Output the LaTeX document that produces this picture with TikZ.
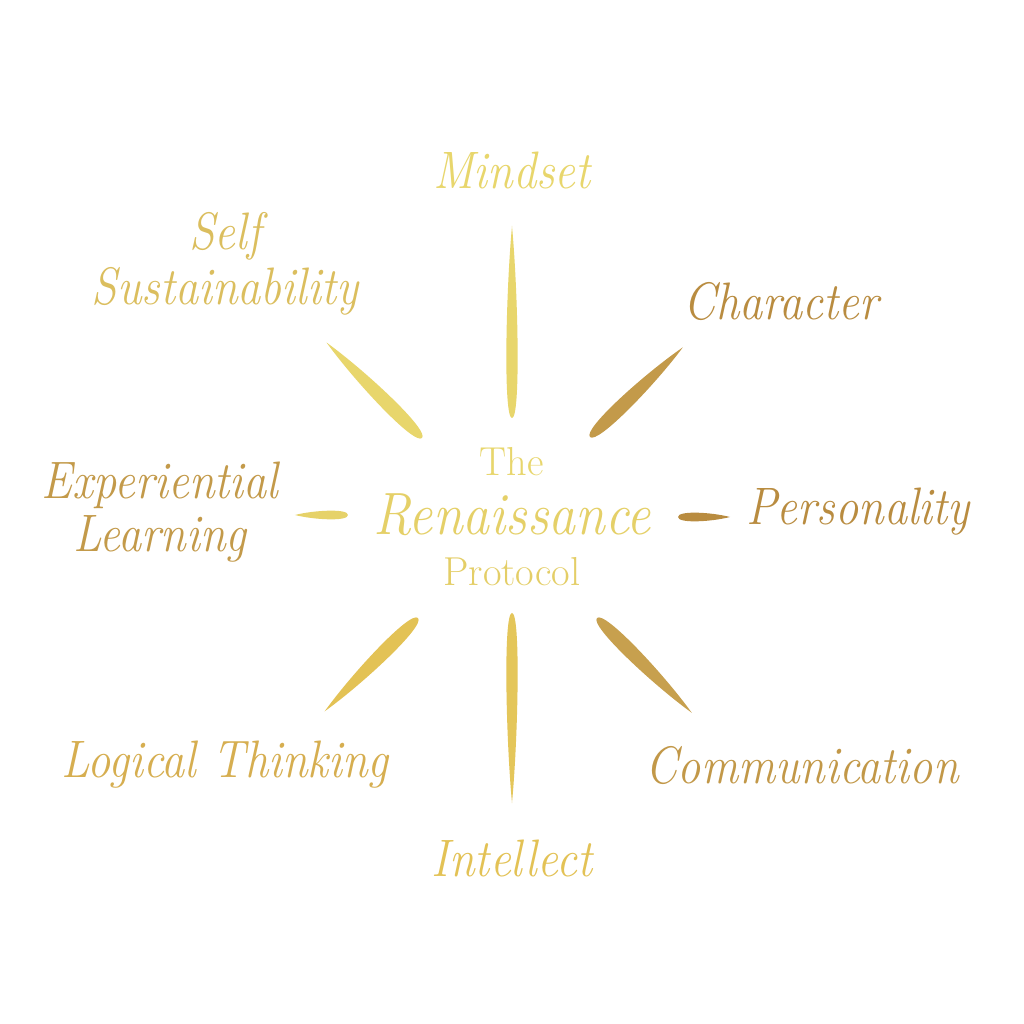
\documentclass[tikz,border=0pt]{standalone}
\usepackage{tikz}

\definecolor{goldpale}{HTML}{E8D66C}
\definecolor{goldlight}{HTML}{DBBE5E}
\definecolor{goldmid}{HTML}{D6AE50}
\definecolor{goldwarm}{HTML}{E3C255}
\definecolor{golddeep}{HTML}{B98C40}
\definecolor{goldbrown}{HTML}{C39A4A}

% one tapered spoke: colour, base, angle, length, half width
\newcommand{\spoke}[5]{%
    \fill[#1, shift={#2}, rotate=#3]
        (0,0) .. controls (0,#5*1.35) and (0.65*#4,#5*0.95) .. (#4,0)
              .. controls (0.65*#4,-#5*0.95) and (0,-#5*1.35) .. cycle;%
}

\begin{document}
\begin{tikzpicture}[%
        x=0.02cm,y=0.02cm,%
        label/.style={font=\fontsize{30}{34}\selectfont\itshape, inner sep=0pt, align=center, xscale=0.88, transform shape},
        title/.style={font=\fontsize{23}{26}\selectfont, inner sep=0pt},
    ]
    \fill[white] (-512,-512) rectangle (512,512);
    \useasboundingbox (-512,-512) rectangle (512,512);

    % centre
    \node[title, text=goldpale] (the) at (0,50) {The};
    \node[font=\fontsize{34}{38}\selectfont\itshape, inner sep=0pt, xscale=0.9, transform shape, text=goldpale!85!goldmid] (renaissance) at (0,-3) {Renaissance};
    \node[title, text=goldpale!80!goldmid] (protocol) at (0,-60) {Protocol};

    % spokes
    \spoke{goldpale}{(0,94)}{90}{192}{6.5}
    \spoke{goldwarm!80!goldpale}{(0,-101)}{-90}{190}{6.5}
    \spoke{goldbrown}{(78,75)}{44}{129}{8}
    \spoke{goldpale}{(-90,74)}{135}{135}{8}
    \spoke{goldwarm}{(-94,-106)}{225}{132}{8}
    \spoke{goldbrown!90!goldpale}{(85,-106)}{-45}{134}{8}
    \spoke{goldpale!90!goldmid}{(-164,-3)}{180}{53}{5}
    \spoke{golddeep}{(166,-5)}{0}{52}{5}

    % labels
    \node[label, text=goldpale] (mindset) at (0,342) {Mindset};
    \node[label, text=goldlight] (self) at (-287,248) {Self\\[-3pt]Sustainability};
    \node[label, text=golddeep] (character) at (269,210) {Character};
    \node[label, text=goldbrown] (experiential) at (-352,0) {Experiential\\[-4pt]Learning};
    \node[label, text=golddeep] (personality) at (346,0) {Personality};
    \node[label, text=goldmid] (logical) at (-287,-253) {Logical Thinking};
    \node[label, text=goldbrown!85!golddeep] (communication) at (290,-253) {Communication};
    \node[label, text=goldwarm] (intellect) at (0,-346) {Intellect};
\end{tikzpicture}
\end{document}
